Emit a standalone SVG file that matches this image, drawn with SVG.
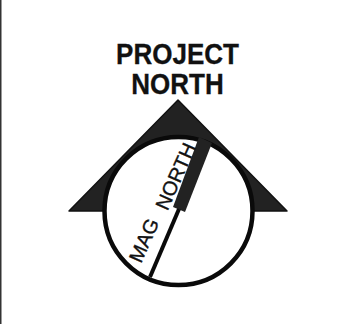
<svg xmlns="http://www.w3.org/2000/svg" width="347" height="324" viewBox="0 0 347 324">
<style>
.t{font-family:"Liberation Sans",Arial,sans-serif;fill:#111;stroke:#111}
.h{font-size:26px;font-weight:700;text-anchor:middle;stroke-width:.3}
.m{font-size:20px;stroke-width:.35}
</style>
<rect width="347" height="324" fill="#fff"/>
<rect x="0" y="0" width="1.5" height="324" fill="#333"/>
<g id="north-arrow">
<path d="M178 100 L287 211 L69 211 Z" fill="#222" stroke="#111" stroke-width="1.500" stroke-linejoin="round"/>
<circle cx="178.500" cy="211" r="74" fill="#fff" stroke="#0a0a0a" stroke-width="4.500"/>
</g>
<g id="needle">
<path d="M173 207 L185 212 L212 143 L199 137 Z" fill="#222"/>
<line x1="150" y1="277" x2="179" y2="209" stroke="#0a0a0a" stroke-width="4"/>
</g>
<g id="title">
<text class="t h" transform="translate(177.500 64) scale(1 1.12)">PROJECT</text>
<text class="t h" transform="translate(177.500 94) scale(1 1.12)">NORTH</text>
</g>
<g id="mag-north-label">
<text class="t m" transform="translate(141 264) rotate(-66)">MAG</text>
<text class="t m" transform="translate(167.500 211.500) rotate(-66)">NORTH</text>
</g>
</svg>
